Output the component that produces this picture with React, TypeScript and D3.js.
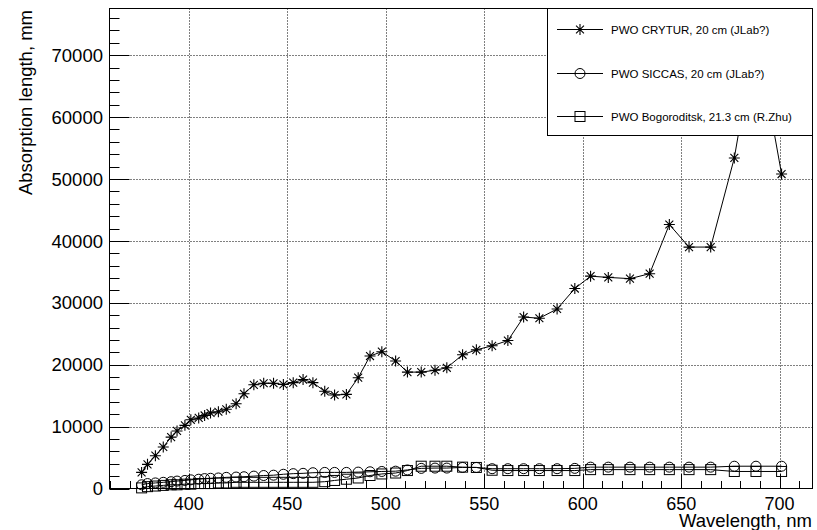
import React, { useEffect, useRef } from "react";
import * as d3 from "d3";

// wavelength grid (nm), shared by the three samples
const wavelengths = [
  376, 379, 383, 387, 391, 394, 398, 401, 405, 408,
  411, 415, 419, 424, 428, 433, 438, 443, 448, 453,
  458, 463, 469, 474, 480, 486, 492, 498, 505, 511,
  518, 525, 531, 539, 546, 554, 562, 570, 578, 587,
  596, 604, 613, 624, 634, 644, 654, 665, 677, 688,
  701
];

// absorption length, mm
const crytur = [
  2600, 3900, 5300, 6700, 8300, 9300, 10200, 11100, 11400, 11800,
  12200, 12400, 12800, 13700, 15300, 16750, 17000, 17000, 16800, 17100,
  17600, 17100, 15700, 15100, 15200, 17900, 21400, 22100, 20600, 18800,
  18800, 19100, 19500, 21600, 22400, 23050, 23900, 27700, 27500, 29000,
  32300, 34300, 34100, 33900, 34700, 42650, 39000, 39000, 53400, 73800,
  50800
];

const siccas = [
  600, 800, 900, 1000, 1100, 1200, 1300, 1400, 1500, 1600,
  1650, 1700, 1800, 1850, 1900, 2000, 2100, 2150, 2300, 2400,
  2450, 2550, 2600, 2600, 2600, 2650, 2700, 2750, 2800, 3000,
  3250, 3300, 3300, 3400, 3400, 3200, 3200, 3200, 3200, 3200,
  3250, 3450, 3450, 3450, 3450, 3450, 3450, 3450, 3600, 3600,
  3600
];

const bogoroditsk = [
  100, 300, 400, 500, 600, 600, 700, 700, 800, 800,
  800, 900, 900, 1000, 1000, 1000, 1000, 1000, 1000, 1000,
  1000, 1000, 1100, 1300, 1500, 1700, 2100, 2350, 2500, 2900,
  3600, 3600, 3600, 3450, 3400, 2950, 2900, 2900, 2900, 2900,
  2900, 3050, 3050, 3050, 3050, 3050, 3050, 3050, 2750, 2750,
  2750
];

const seriesNames = [
  "PWO CRYTUR, 20 cm (JLab?)",
  "PWO SICCAS, 20 cm (JLab?)",
  "PWO Bogoroditsk, 21.3 cm (R.Zhu)"
];
const markerTypes = ["star", "circle", "square"];

const xTicks = [400, 450, 500, 550, 600, 650, 700];
const yTicks = [0, 10000, 20000, 30000, 40000, 50000, 60000, 70000];

const FONT = "'Liberation Sans', Arial, Helvetica, sans-serif";

function drawMarker(g: any, type: string, cx: number, cy: number) {
  if (type === "star") {
    const r = 5.5;
    const d = r * 0.72;
    g.append("path")
      .attr("d", `M${cx - r},${cy}H${cx + r}M${cx},${cy - r}V${cy + r}` +
        `M${cx - d},${cy - d}L${cx + d},${cy + d}M${cx - d},${cy + d}L${cx + d},${cy - d}`)
      .attr("stroke", "#000")
      .attr("stroke-width", 1.1)
      .attr("fill", "none");
    g.append("circle").attr("cx", cx).attr("cy", cy).attr("r", 1.3).attr("fill", "#000");
  } else if (type === "circle") {
    g.append("circle")
      .attr("cx", cx).attr("cy", cy).attr("r", 5)
      .attr("fill", "none").attr("stroke", "#000").attr("stroke-width", 1);
  } else {
    g.append("rect")
      .attr("x", cx - 5).attr("y", cy - 5).attr("width", 10).attr("height", 10)
      .attr("fill", "none").attr("stroke", "#000").attr("stroke-width", 1);
  }
}

export default function App() {
  const ref = useRef<SVGSVGElement>(null);

  useEffect(() => {
    const svg = d3.select(ref.current);
    svg.selectAll("*").remove();

    const left = 109.5, right = 812.5, top = 8.5, bottom = 488.5;

    const x = d3.scaleLinear().domain([359.7, 716.7]).range([left, right]);
    const y = d3.scaleLinear().domain([0, 77540]).range([bottom, top]);

    svg.append("rect").attr("width", 817).attr("height", 530).attr("fill", "#fff");

    // grid
    const grid = svg.append("g")
      .attr("stroke", "#000")
      .attr("stroke-width", 1)
      .attr("stroke-dasharray", "1,2");
    xTicks.forEach(t => {
      const px = Math.round(x(t)) + 0.5;
      grid.append("line").attr("x1", px).attr("x2", px).attr("y1", top).attr("y2", bottom);
    });
    yTicks.slice(1).forEach(t => {
      const py = Math.round(y(t)) + 0.5;
      grid.append("line").attr("x1", left).attr("x2", right).attr("y1", py).attr("y2", py);
    });

    // ticks
    const ticks = svg.append("g").attr("stroke", "#000").attr("stroke-width", 1);
    d3.range(360, 717, 10).forEach(t => {
      const px = Math.round(x(t)) + 0.5;
      const len = t % 50 === 0 ? 14.5 : 7.5;
      ticks.append("line").attr("x1", px).attr("x2", px).attr("y1", bottom).attr("y2", bottom - len);
    });
    d3.range(0, 77540, 2000).forEach(t => {
      const py = Math.round(y(t)) + 0.5;
      const len = t % 10000 === 0 ? 20 : 10;
      ticks.append("line").attr("x1", left).attr("x2", left + len).attr("y1", py).attr("y2", py);
    });

    // series
    const all = [crytur, siccas, bogoroditsk];
    const line = d3.line<number>()
      .x((d, i) => x(wavelengths[i]))
      .y(d => y(d));
    all.forEach((vals, k) => {
      const g = svg.append("g");
      g.append("path")
        .attr("d", line(vals))
        .attr("fill", "none")
        .attr("stroke", "#000")
        .attr("stroke-width", 1);
      vals.forEach((v, i) => drawMarker(g, markerTypes[k], x(wavelengths[i]), y(v)));
    });

    // frame
    svg.append("rect")
      .attr("x", left).attr("y", top)
      .attr("width", right - left).attr("height", bottom - top)
      .attr("fill", "none").attr("stroke", "#000").attr("stroke-width", 1);

    // tick labels
    xTicks.forEach(t => {
      svg.append("text")
        .attr("x", x(t)).attr("y", 510)
        .attr("text-anchor", "middle")
        .style("font-family", FONT).style("font-size", "18px")
        .text(t);
    });
    yTicks.forEach(t => {
      svg.append("text")
        .attr("x", 103).attr("y", y(t))
        .attr("dy", "0.36em")
        .attr("text-anchor", "end")
        .style("font-family", FONT).style("font-size", "18.5px")
        .text(t);
    });

    // axis titles
    svg.append("text")
      .attr("x", 812).attr("y", 527)
      .attr("text-anchor", "end")
      .style("font-family", FONT).style("font-size", "18.5px")
      .text("Wavelength, nm");
    svg.append("text")
      .attr("transform", "translate(32,10) rotate(-90)")
      .attr("text-anchor", "end")
      .style("font-family", FONT).style("font-size", "18.5px")
      .text("Absorption length, mm");

    // legend
    const lg = svg.append("g");
    lg.append("rect")
      .attr("x", 547.5).attr("y", top)
      .attr("width", right - 547.5).attr("height", 127)
      .attr("fill", "#fff").attr("stroke", "#000").attr("stroke-width", 1);
    const rows = [29.5, 73.5, 116.5];
    seriesNames.forEach((name, k) => {
      const ry = rows[k];
      lg.append("line")
        .attr("x1", 557).attr("x2", 603).attr("y1", ry).attr("y2", ry)
        .attr("stroke", "#000").attr("stroke-width", 1);
      drawMarker(lg, markerTypes[k], 580, ry);
      lg.append("text")
        .attr("x", 611).attr("y", ry)
        .attr("dy", "0.35em")
        .style("font-family", FONT).style("font-size", "11.5px")
        .text(name);
    });
  }, []);

  return (
    <svg
      ref={ref}
      width={817}
      height={530}
      style={{ position: "absolute", left: 0, top: 0 }}
    />
  );
}
